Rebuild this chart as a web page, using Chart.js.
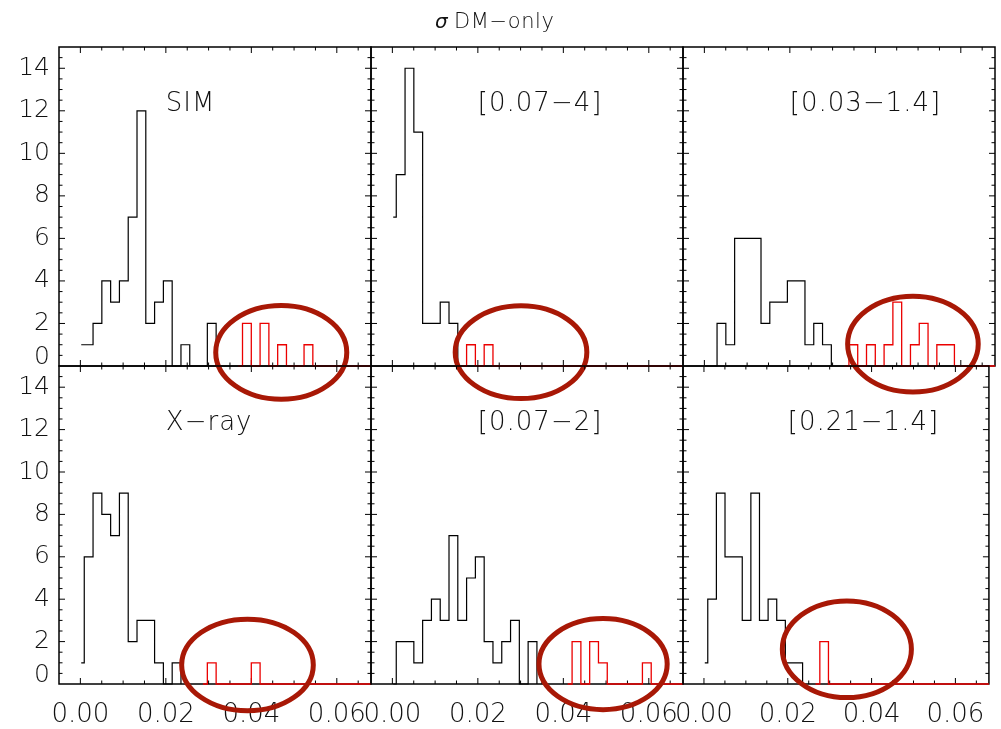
<!DOCTYPE html>
<html>
<head>
<meta charset="utf-8">
<script src="https://cdn.jsdelivr.net/npm/chart.js@4.4.1/dist/chart.umd.min.js"></script>
<style>
  html, body { margin: 0; padding: 0; background: #fff; }
  #wrap { position: relative; width: 1001px; height: 729px; overflow: hidden; background: #fff; }
  #wrap canvas { position: absolute; left: 0; top: 0; }
</style>
</head>
<body>
<div id="wrap"></div>
<script>
// ---- histogram grid shared by every panel (sigma) ----
const histStart = 0.0002;     // first plotted sigma
const binOrigin = 0.00091;    // left edge of the first full bin
const binWidth  = 0.002057;

const panelNames = ['SIM', '[0.07\u22124]', '[0.03\u22121.4]', 'X\u2212ray', '[0.07\u22122]', '[0.21\u22121.4]'];

// count in the partial bin [histStart, binOrigin]
const leadCounts = [1, 7, 0, 1, 0, 1];

// counts per full bin, starting at binOrigin
const simCounts   = [1, 2, 4, 3, 4, 7, 12, 2, 3, 4, 0, 1, 0, 0, 2];
const r074Counts  = [9, 14, 11, 2, 2, 3, 2];
const r0314Counts = [0, 2, 1, 6, 6, 6, 2, 3, 3, 4, 4, 1, 2, 1];
const xrayCounts  = [6, 9, 8, 7, 9, 2, 3, 3, 1, 0, 1];
const r072Counts  = [2, 2, 1, 3, 4, 3, 7, 3, 5, 6, 2, 1, 2, 3, 0, 2];
const r2114Counts = [4, 9, 6, 6, 3, 9, 3, 4, 3, 1, 1];

// high-sigma tail (red): index of its first bin, then counts
const tailFirstBin = [18, 8, 16, 14, 20, 13];
const simTail   = [2, 0, 2, 0, 1, 0, 0, 1];
const r074Tail  = [1, 0, 1];
const r0314Tail = [1, 0, 1, 0, 1, 3, 0, 1, 2, 0, 1, 1];
const xrayTail  = [1, 0, 0, 0, 0, 1];
const r072Tail  = [2, 0, 2, 1, 0, 0, 0, 0, 1];
const r2114Tail = [2];

// rings around the tail: centre and half-axes in data units
const ringX  = [0.0470, 0.0301, 0.0488, 0.0391, 0.0493, 0.0341];
const ringY  = [0.64, 0.65, 1.03, 0.90, 0.94, 1.64];
const ringRX = [0.01533, 0.0154, 0.01528, 0.0154, 0.0150, 0.0154];
const ringRY = [2.2, 2.18, 2.25, 2.16, 2.15, 2.28];

// axes
const xMin = -0.005, xMax = 0.068, yMin = 0, yMax = 15;
const xTickValues = [0, 0.02, 0.04, 0.06];
const xTickLabels = ['0.00', '0.02', '0.04', '0.06'];
const yTickValues = [0, 2, 4, 6, 8, 10, 12, 14];
const yTickLabels = ['0', '2', '4', '6', '8', '10', '12', '14'];

const countSets = [simCounts, r074Counts, r0314Counts, xrayCounts, r072Counts, r2114Counts];
const tailSets  = [simTail, r074Tail, r0314Tail, xrayTail, r072Tail, r2114Tail];

// ---- page layout ----
const W = 1001, H = 729;
const colEdges = [[59, 371], [371, 683], [683, 995]];
const rowEdges = [[47, 366], [366, 684]];
const zeroLabelLift = 0.4;   // the "0" label sits slightly above the axis
const FONT = '"DejaVu Sans", "Liberation Sans", sans-serif';
const ringColor = 'rgb(168,24,6)';

Chart.defaults.font.family = FONT;
Chart.defaults.color = '#111';

const binEdge = k => binOrigin + k * binWidth;

function blackPoints(i) {
  const c = countSets[i];
  const pts = [{ x: histStart, y: leadCounts[i] }];
  c.forEach((v, k) => pts.push({ x: binEdge(k), y: v }));
  pts.push({ x: binEdge(c.length), y: 0 });
  return pts;
}

function tailPoints(i) {
  const t = tailSets[i], f = tailFirstBin[i];
  const pts = [{ x: binEdge(f) - binWidth / 2, y: 0 }];
  t.forEach((v, k) => pts.push({ x: binEdge(f + k), y: v }));
  pts.push({ x: binEdge(f + t.length), y: 0 });
  pts.push({ x: xMax, y: 0 });
  return pts;
}

// box with inward major/minor ticks on all four sides
const framePlugin = {
  id: 'frame',
  beforeDatasetsDraw(chart) {
    const { ctx, chartArea: a, scales: { x, y } } = chart;
    ctx.save();
    ctx.strokeStyle = '#000';
    ctx.lineWidth = 1;
    ctx.beginPath();
    for (let k = 0; k <= 13; k++) {
      const px = x.getPixelForValue(k * 0.005);
      const len = k % 4 === 0 ? 6 : 3.5;
      ctx.moveTo(px, a.bottom); ctx.lineTo(px, a.bottom - len);
      ctx.moveTo(px, a.top);    ctx.lineTo(px, a.top + len);
    }
    for (let k = 1; k <= 29; k++) {
      const py = y.getPixelForValue(k * 0.5);
      const len = k % 4 === 0 ? 6 : 3.5;
      ctx.moveTo(a.left, py);  ctx.lineTo(a.left + len, py);
      ctx.moveTo(a.right, py); ctx.lineTo(a.right - len, py);
    }
    ctx.stroke();
    ctx.lineWidth = 1.5;
    ctx.strokeRect(a.left, a.top, a.right - a.left, a.bottom - a.top);
    ctx.restore();
  }
};

// panel name and the ring marking the tail
const markPlugin = {
  id: 'marks',
  afterDatasetsDraw(chart) {
    const i = chart.options.plugins.marks.index;
    const { ctx, scales: { x, y } } = chart;
    ctx.save();
    const cx = x.getPixelForValue(ringX[i]), cy = y.getPixelForValue(ringY[i]);
    const rx = Math.abs(x.getPixelForValue(ringX[i] + ringRX[i]) - cx);
    const ry = Math.abs(y.getPixelForValue(ringY[i] + ringRY[i]) - cy);
    ctx.strokeStyle = ringColor;
    ctx.lineWidth = 5;
    ctx.beginPath();
    ctx.ellipse(cx, cy, rx, ry, 0, 0, Math.PI * 2);
    ctx.stroke();

    ctx.fillStyle = '#111';
    ctx.font = '200 26px ' + FONT;
    ctx.letterSpacing = '1px';
    ctx.textAlign = 'left';
    ctx.textBaseline = 'alphabetic';
    ctx.fillText(panelNames[i], x.getPixelForValue(0.02), y.getPixelForValue(12));
    ctx.restore();
  }
};

// figure title
const titlePlugin = {
  id: 'figTitle',
  afterDraw(chart) {
    const ctx = chart.ctx;
    ctx.save();
    ctx.fillStyle = '#111';
    ctx.textBaseline = 'alphabetic';
    ctx.textAlign = 'left';
    ctx.font = 'italic 20px ' + FONT;
    ctx.fillText('\u03C3', 435, 28);
    ctx.font = '200 21px ' + FONT;
    ctx.letterSpacing = '0.6px';
    ctx.fillText('DM\u2212only', 454, 28);
    ctx.restore();
  }
};

function makePanel(i) {
  const col = i % 3, row = Math.floor(i / 3);
  const [L, R] = colEdges[col];
  const [T, B] = rowEdges[row];
  const canvas = document.createElement('canvas');
  canvas.width = W; canvas.height = H;
  canvas.style.width = W + 'px'; canvas.style.height = H + 'px';
  document.getElementById('wrap').appendChild(canvas);

  const plugins = [framePlugin, markPlugin];
  if (i === 0) plugins.push(titlePlugin);

  // the label-bearing axes take the whole margin so their labels are not clipped
  const yBox = col === 0 ? L : 0;
  const xBox = row === 1 ? H - B : 0;

  return new Chart(canvas, {
    type: 'line',
    data: {
      datasets: [
        { data: blackPoints(i), borderColor: '#000', borderWidth: 1.2, stepped: true,
          pointRadius: 0, fill: false, clip: false },
        { data: tailPoints(i), borderColor: 'rgb(235,0,0)', borderWidth: 1.3, stepped: true,
          pointRadius: 0, fill: false, clip: false }
      ]
    },
    options: {
      responsive: false,
      animation: false,
      devicePixelRatio: 1,
      events: [],
      layout: { padding: { left: L - yBox, right: W - R, top: T, bottom: H - B - xBox } },
      plugins: {
        legend: { display: false },
        tooltip: { enabled: false },
        marks: { index: i }
      },
      scales: {
        x: {
          type: 'linear', min: xMin, max: xMax,
          grid: { display: false, drawTicks: false },
          border: { display: false },
          afterBuildTicks: s => { s.ticks = xTickValues.map(v => ({ value: v })); },
          afterFit: s => { s.height = xBox; },
          ticks: {
            display: row === 1,
            autoSkip: false, maxRotation: 0, minRotation: 0,
            padding: 16,
            font: { size: 26, weight: '200' },
            color: '#111',
            callback: (v, k) => xTickLabels[k]
          }
        },
        y: {
          type: 'linear', min: yMin, max: yMax,
          grid: { display: false, drawTicks: false },
          border: { display: false },
          afterBuildTicks: s => {
            s.ticks = yTickValues.map(v => ({ value: v === 0 ? zeroLabelLift : v }));
          },
          afterFit: s => { s.width = yBox; },
          ticks: {
            display: col === 0,
            autoSkip: false,
            padding: 9,
            font: { size: 25, weight: '200' },
            color: '#111',
            callback: (v, k) => yTickLabels[k]
          }
        }
      }
    },
    plugins
  });
}

for (let i = 0; i < 6; i++) makePanel(i);
</script>
</body>
</html>
